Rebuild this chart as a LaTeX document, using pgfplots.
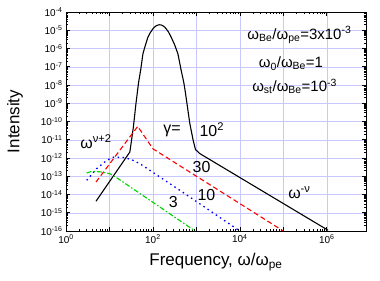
\documentclass[border=0pt]{standalone}
\usepackage{pgfplots}
\pgfplotsset{compat=1.18}
\usepackage{fontspec}
\setmainfont{Liberation Sans}
\newcommand{\sps}[1]{\textsuperscript{#1}}
\newcommand{\sbs}[1]{\textsubscript{#1}}
\definecolor{gridc}{RGB}{200,200,255}
\definecolor{grn}{RGB}{0,210,0}
\begin{document}
\begin{tikzpicture}
\begin{axis}[
  scale only axis, width=300bp, height=219bp,
  xmode=log, ymode=log,
  xmin=1, xmax=8e6, ymin=1e-16, ymax=1e-4,
  xtick={1,10,100,1000,1e4,1e5,1e6},
  xticklabels={10\sps{0},,10\sps{2},,10\sps{4},,10\sps{6}},
  ytick={1e-16,1e-15,1e-14,1e-13,1e-12,1e-11,1e-10,1e-9,1e-8,1e-7,1e-6,1e-5,1e-4},
  yticklabels={10\sps{-16},10\sps{-15},10\sps{-14},10\sps{-13},10\sps{-12},10\sps{-11},10\sps{-10},10\sps{-9},10\sps{-8},10\sps{-7},10\sps{-6},10\sps{-5},10\sps{-4}},
  tick label style={font=\fontsize{10}{12}\selectfont},
  major tick length=4bp, minor tick length=2bp,
  tick style={black, line width=0.6bp},
  grid=major,
  major grid style={gridc, line width=0.5bp},
  axis line style={black, line width=0.8bp},
  label style={font=\fontsize{17}{20}\selectfont},
  xlabel={Frequency, ω/ω\sbs{pe}},
  ylabel={Intensity},
  xlabel style={at={(axis description cs:0.5,-0.142)}, anchor=center},
  ylabel style={at={(axis description cs:-0.17,0.5)}, anchor=center},
]
% gamma = 100 (black)
\addplot[black, line width=1.1bp, line join=round] coordinates {
(4.90,4.27e-15) (29.5,2.14e-12) (35.5,4.9e-11) (40.7,9.55e-10) (46.8,1.38e-8)
(52.1,6.31e-8) (58.9,5.13e-7) (67.6,1.6e-6) (76.7,4.17e-6) (87.1,7.4e-6) (100,1.20e-5)
(109.6,1.51e-5) (120.2,1.78e-5) (128.8,1.91e-5) (142.6,2.0e-5) (154.9,1.94e-5)
(169.8,1.76e-5) (186.2,1.49e-5) (202,1.20e-5) (229,7.9e-6)
(263,4.17e-6) (316,1.6e-6) (376,5.13e-7) (447,6.31e-8) (513,1.38e-8) (550,5.0e-9)
(708,7.6e-11) (843,9.3e-12) (955,2.9e-12) (1202,1.74e-12) (1.07e6,1.10e-16)
};
% gamma = 30 (red)
\addplot[red, line width=1.1bp, dash pattern=on 5bp off 3bp] coordinates {
(4.90,4.8e-14) (44.7,5.4e-11) (100,3.2e-12) (1e5,1e-16)
};
% gamma = 10 (blue)
\addplot[blue, line width=1.3bp, dash pattern=on 1.5bp off 3.5bp] coordinates {
(2.99,6.0e-14) (5.07,2.6e-13) (8.61,7.4e-13) (12.6,1.12e-12) (20,1.10e-12)
(31.6,8.3e-13) (50.1,4.9e-13) (417,1.7e-14) (1e4,1e-16)
};
% gamma = 3 (green)
\addplot[grn, line width=1.1bp, dash pattern=on 5bp off 2bp on 1.5bp off 2bp] coordinates {
(2.99,1.5e-13) (3.89,1.86e-13) (6.31,1.74e-13) (10.2,1.38e-13) (15.8,7.4e-14) (933,1e-16)
};
\begin{scope}[every node/.style={font=\fontsize{16}{19}\selectfont, inner sep=0pt}]
\node at (axis cs:4.9,8.1e-12) {ω\sps{ν+2}};
\node at (axis cs:275,3.2e-11) {γ=};
\node at (axis cs:2270,3.7e-11) {10\sps{2}};
\node at (axis cs:1318,3.2e-13) {30};
\node at (axis cs:1700,9.1e-15) {10};
\node at (axis cs:294,3.9e-15) {3};
\node at (axis cs:2.35e5,1.3e-14) {ω\sps{-ν}};
\end{scope}
\begin{scope}[every node/.style={font=\fontsize{15}{18}\selectfont, inner sep=0pt}]
\node at (axis cs:2.35e5,5.5e-6) {ω\sbs{Be}/ω\sbs{pe}=3x10\sps{-3}};
\node at (axis cs:1.5e5,1.5e-7) {ω\sbs{0}/ω\sbs{Be}=1};
\node at (axis cs:1.82e5,8.3e-9) {ω\sbs{st}/ω\sbs{Be}=10\sps{-3}};
\end{scope}
\end{axis}
\pgfresetboundingbox
\useasboundingbox (-66bp,-50bp) rectangle (314bp,231bp);
\end{tikzpicture}
\end{document}
